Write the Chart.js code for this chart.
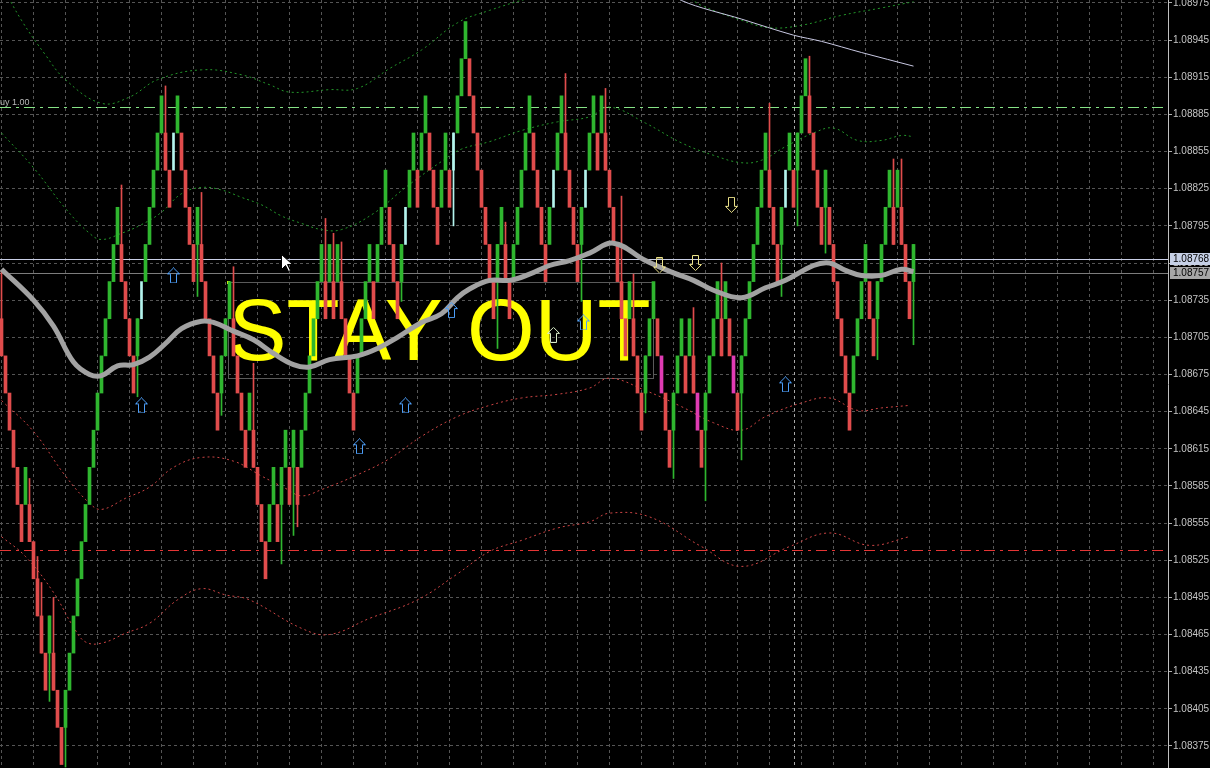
<!DOCTYPE html>
<html lang="en">
<head>
<meta charset="UTF-8" />
<title>EURUSD renko</title>
<script src="https://cdn.jsdelivr.net/npm/chart.js"></script>
<style>
  html, body { margin: 0; padding: 0; background: #000; }
  #wrap { width: 1210px; height: 768px; }
</style>
</head>
<body>
<div id="wrap"><canvas id="renko"></canvas></div>
<script>
// renko bricks of 3 pips, close of every brick from left to right
const brick = 0.0003;
const firstOpen = 1.0872;
const closes = [
  1.0869, 1.0866, 1.0863, 1.0860, 1.0857, 1.0854, 1.0860, 1.0854, 1.0851, 1.0848,
  1.0845, 1.0842, 1.0848, 1.0842, 1.0839, 1.0836, 1.0842, 1.0845, 1.0848, 1.0851,
  1.0854, 1.0857, 1.0860, 1.0863, 1.0866, 1.0869, 1.0872, 1.0875, 1.0878, 1.0881,
  1.0875, 1.0872, 1.0869, 1.0866, 1.0872, 1.0875, 1.0878, 1.0881, 1.0884, 1.0887,
  1.0890, 1.0884, 1.0881, 1.0887, 1.0890, 1.0884, 1.0881, 1.0878, 1.0875, 1.0881,
  1.0875, 1.0872, 1.0869, 1.0866, 1.0863, 1.0869, 1.0872, 1.0875, 1.0869, 1.0866,
  1.0863, 1.0860, 1.0866, 1.0860, 1.0857, 1.0854, 1.0851, 1.0857, 1.0860, 1.0854,
  1.0860, 1.0863, 1.0857, 1.0863, 1.0857, 1.0863, 1.0866, 1.0869, 1.0872, 1.0875,
  1.0878, 1.0872, 1.0878, 1.0872, 1.0878, 1.0872, 1.0869, 1.0866, 1.0863, 1.0869,
  1.0872, 1.0875, 1.0878, 1.0872, 1.0878, 1.0881, 1.0884, 1.0878, 1.0875, 1.0872,
  1.0878, 1.0881, 1.0884, 1.0887, 1.0881, 1.0887, 1.0890, 1.0884, 1.0881, 1.0878,
  1.0884, 1.0887, 1.0881, 1.0887, 1.0890, 1.0893, 1.0896, 1.0890, 1.0887, 1.0884,
  1.0881, 1.0878, 1.0875, 1.0872, 1.0878, 1.0881, 1.0875, 1.0872, 1.0878, 1.0881,
  1.0884, 1.0887, 1.0890, 1.0884, 1.0881, 1.0878, 1.0875, 1.0881, 1.0884, 1.0887,
  1.0890, 1.0884, 1.0881, 1.0878, 1.0875, 1.0881, 1.0884, 1.0887, 1.0890, 1.0884,
  1.0890, 1.0884, 1.0881, 1.0878, 1.0875, 1.0872, 1.0869, 1.0875, 1.0869, 1.0866,
  1.0863, 1.0869, 1.0872, 1.0875, 1.0869, 1.0866, 1.0863, 1.0860, 1.0866, 1.0869,
  1.0872, 1.0866, 1.0872, 1.0866, 1.0863, 1.0860, 1.0866, 1.0869, 1.0872, 1.0875,
  1.0869, 1.0875, 1.0869, 1.0866, 1.0863, 1.0869, 1.0872, 1.0875, 1.0878, 1.0881,
  1.0884, 1.0887, 1.0881, 1.0878, 1.0875, 1.0881, 1.0884, 1.0887, 1.0881, 1.0887,
  1.0890, 1.0893, 1.0887, 1.0884, 1.0881, 1.0878, 1.0884, 1.0878, 1.0875, 1.0872,
  1.0869, 1.0866, 1.0863, 1.0869, 1.0872, 1.0875, 1.0878, 1.0872, 1.0869, 1.0875,
  1.0878, 1.0881, 1.0884, 1.0878, 1.0884, 1.0878, 1.0875, 1.0872, 1.0878
];
const cyanBricks = [35, 43, 101, 113, 138, 146, 196];
const magentaBricks = [165, 174, 183];

// wicks that stick out of the bricks: [brick index, price]
const wickHighs = [
  [0, 1.08759], [7, 1.08591], [9, 1.08528], [10, 1.08507], [13, 1.08495], [30, 1.08828],
  [41, 1.08908], [50, 1.08822], [58, 1.08762], [63, 1.08684], [81, 1.08801], [83, 1.08789],
  [85, 1.08782], [126, 1.08798], [141, 1.08918], [151, 1.08906], [155, 1.08819], [158, 1.08756],
  [173, 1.08729], [180, 1.08765], [192, 1.08894], [202, 1.08932], [223, 1.08849], [225, 1.08849]
];
const wickLows = [
  [12, 1.08411], [16, 1.08358], [34, 1.08657], [49, 1.08738], [55, 1.08642], [70, 1.08522],
  [73, 1.08545], [74, 1.08552], [100, 1.08734], [113, 1.08795], [124, 1.08696], [145, 1.08734],
  [161, 1.08644], [168, 1.08591], [176, 1.08573], [185, 1.08606], [195, 1.08738], [199, 1.08795],
  [206, 1.08773], [219, 1.08687], [228, 1.08699]
];

// indicator lines: [brick index, price]
const movingAvg = [
  [0, 1.08760], [8, 1.08735], [13, 1.08714], [18, 1.08685], [22, 1.08675], [25, 1.08674],
  [29, 1.08682], [33, 1.08683], [37, 1.08689], [41, 1.08700], [45, 1.08712], [50, 1.08718],
  [53, 1.08717], [58, 1.08710], [63, 1.08703], [68, 1.08692], [73, 1.08683], [77, 1.08681],
  [82, 1.08687], [89, 1.08690], [94, 1.08696], [99, 1.08705], [105, 1.08717], [110, 1.08724],
  [114, 1.08737], [117, 1.08744], [122, 1.08751], [127, 1.08751], [132, 1.08756], [137, 1.08763],
  [142, 1.08767], [147, 1.08773], [153, 1.08781], [161, 1.08767], [168, 1.08757], [173, 1.08751],
  [178, 1.08743], [185, 1.08737], [191, 1.08745], [196, 1.08751], [203, 1.08763], [207, 1.08765],
  [211, 1.08759], [215, 1.08755], [220, 1.08755], [225, 1.08760], [228, 1.08758]
];
const upperInner = [
  [0, 1.08870], [8, 1.08842], [16, 1.08809], [22, 1.08789], [25, 1.08784], [30, 1.08789],
  [35, 1.08796], [40, 1.08806], [45, 1.08821], [50, 1.08826], [55, 1.08824], [60, 1.08818],
  [65, 1.08812], [70, 1.08803], [75, 1.08797], [80, 1.08792], [85, 1.08792], [93, 1.08805],
  [101, 1.08826], [110, 1.08847], [115, 1.08857], [122, 1.08863], [130, 1.08872], [139, 1.08879],
  [147, 1.08883], [152, 1.08891], [161, 1.08878], [170, 1.08862], [178, 1.08852], [185, 1.08846],
  [190, 1.08848], [196, 1.08859], [203, 1.08870], [208, 1.08874], [214, 1.08864], [220, 1.08864],
  [225, 1.08868], [228, 1.08867]
];
const upperOuter = [
  [0, 1.08990], [5, 1.08961], [11, 1.08933], [16, 1.08913], [25, 1.08894], [32, 1.08899],
  [39, 1.08913], [50, 1.08921], [60, 1.08917], [67, 1.08909], [72, 1.08903], [82, 1.08905],
  [89, 1.08906], [97, 1.08922], [105, 1.08937], [114, 1.08959], [122, 1.08969], [132, 1.08979],
  [150, 1.08995], [170, 1.08982], [175, 1.08973], [185, 1.08961], [192, 1.08955], [200, 1.08957],
  [210, 1.08965], [220, 1.08971], [228, 1.08976]
];
const lowerInner = [
  [0, 1.08654], [8, 1.08629], [16, 1.08593], [22, 1.08571], [25, 1.08566], [31, 1.08575],
  [37, 1.08584], [43, 1.08600], [50, 1.08608], [58, 1.08605], [65, 1.08593], [71, 1.08583],
  [75, 1.08577], [80, 1.08582], [89, 1.08594], [97, 1.08607], [105, 1.08625], [114, 1.08641],
  [122, 1.08650], [130, 1.08656], [139, 1.08659], [147, 1.08664], [152, 1.08672], [161, 1.08662],
  [170, 1.08649], [178, 1.08636], [185, 1.08630], [191, 1.08641], [200, 1.08652], [207, 1.08656],
  [214, 1.08646], [220, 1.08648], [227, 1.08650]
];
const lowerOuter = [
  [0, 1.08544], [6, 1.08528], [13, 1.08499], [18, 1.08471], [21, 1.08459], [25, 1.08458],
  [31, 1.08466], [37, 1.08474], [44, 1.08493], [50, 1.08502], [56, 1.08497], [62, 1.08493],
  [75, 1.08470], [82, 1.08465], [92, 1.08478], [104, 1.08493], [114, 1.08514], [122, 1.08532],
  [130, 1.08541], [139, 1.08551], [147, 1.08556], [152, 1.08563], [162, 1.08560], [175, 1.08536],
  [185, 1.08520], [197, 1.08536], [207, 1.08547], [217, 1.08537], [227, 1.08544]
];
const slowLine = [
  [160, 1.08998], [170, 1.08977], [185, 1.08962], [198, 1.08949], [205, 1.08944],
  [215, 1.08935], [228, 1.08924]
];

// signal arrows: [brick index, price]
const buyArrows = [
  [35, 1.08650], [43, 1.08755], [89.5, 1.08617], [101, 1.08650], [112.5, 1.08727],
  [138, 1.08707], [145.5, 1.08717], [196, 1.08667]
];
const sellArrows = [[164.5, 1.08763], [173.5, 1.08765], [182.5, 1.08812]];

// levels and axis
const priceTicks = [
  1.08375, 1.08405, 1.08435, 1.08465, 1.08495, 1.08525, 1.08555, 1.08585, 1.08615, 1.08645,
  1.08675, 1.08705, 1.08735, 1.08765, 1.08795, 1.08825, 1.08855, 1.08885, 1.08915, 1.08945, 1.08975
];
const priceMin = 1.083572, priceMax = 1.089774;
const buyLevel = 1.08891, sellLevel = 1.08533;
const askPrice = 1.08768, bidPrice = 1.08757;
const separatorIndex = 198;
const warningText = 'STAY OUT';
const boxFrom = [56.6, 1.08750], boxTo = [162.9, 1.08672];
const textBase = 1.08687;
const cursorAt = [69.9, 1.08772];

// ---------- build the chart ----------
const opens = closes.map((c, i) => {
  if (i === 0) return firstOpen;
  return c > closes[i - 1] ? +(c - brick).toFixed(5) : +(c + brick).toFixed(5);
});
const GREEN = '#2fb62f', RED = '#e04c4c', CYAN = '#b4f4ee', MAGENTA = '#e03cb4';
const bodyColors = closes.map((c, i) => {
  if (cyanBricks.includes(i)) return CYAN;
  if (magentaBricks.includes(i)) return MAGENTA;
  return c > opens[i] ? GREEN : RED;
});
const plainIdx = closes.map((_, i) => i).filter(i => !cyanBricks.includes(i));

const wickIdx = [...new Set([...wickHighs, ...wickLows].map(w => w[0]))].sort((a, b) => a - b);
const wickData = wickIdx.map(i => {
  const hi = wickHighs.find(w => w[0] === i);
  const lo = wickLows.find(w => w[0] === i);
  return {
    x: i,
    y: [lo ? lo[1] : Math.min(opens[i], closes[i]), hi ? hi[1] : Math.max(opens[i], closes[i])]
  };
});

function arrowImage(color, up) {
  const c = document.createElement('canvas');
  c.width = 13; c.height = 16;
  const g = c.getContext('2d');
  g.strokeStyle = color;
  g.lineWidth = 1;
  const pts = [[6.5, 0.5], [12.5, 6.5], [9.5, 6.5], [9.5, 15.5], [3.5, 15.5], [3.5, 6.5], [0.5, 6.5]];
  g.beginPath();
  pts.forEach(([px, py], i) => {
    const yy = up ? py : 16 - py;
    if (i) g.lineTo(px, yy); else g.moveTo(px, yy);
  });
  g.closePath();
  g.stroke();
  return c;
}
const upBlue = arrowImage('#4c9ef8', true);
const upPale = arrowImage('#d9ecc8', true);
const downYellow = arrowImage('#ece38a', false);

const toXY = arr => arr.map(([x, y]) => ({ x, y }));
const band = (data, color, order) => ({
  type: 'line', data: toXY(data), borderColor: color, borderWidth: 1, borderDash: [2, 3],
  pointRadius: 0, tension: 0.4, order
});

const overlay = {
  id: 'overlay',
  beforeDatasetsDraw(chart) {
    const { ctx, chartArea: a, scales: { x, y } } = chart;
    ctx.save();
    ctx.beginPath();
    ctx.rect(a.left, a.top, a.width, a.height);
    ctx.clip();

    const sx = Math.round(x.getPixelForValue(separatorIndex)) + 0.5;
    ctx.strokeStyle = '#a8a8a8';
    ctx.lineWidth = 1;
    ctx.setLineDash([3, 3]);
    ctx.beginPath(); ctx.moveTo(sx, a.top); ctx.lineTo(sx, a.bottom); ctx.stroke();

    const hline = (price, color, dash) => {
      const py = Math.round(y.getPixelForValue(price)) + 0.5;
      ctx.strokeStyle = color;
      ctx.setLineDash(dash);
      ctx.beginPath(); ctx.moveTo(a.left, py); ctx.lineTo(a.right, py); ctx.stroke();
    };
    hline(buyLevel, '#86e386', [11, 5, 3, 5]);
    hline(sellLevel, '#e53535', [11, 5, 3, 5]);
    hline(bidPrice, '#7c7c7c', []);
    hline(askPrice, '#c9cfe6', []);

    ctx.font = '9px "Liberation Sans"';
    ctx.fillStyle = '#b8b8b8';
    ctx.fillText('buy 1.00', -5, y.getPixelForValue(buyLevel) - 2);

    const bx1 = Math.round(x.getPixelForValue(boxFrom[0])) + 0.5;
    const bx2 = Math.round(x.getPixelForValue(boxTo[0])) + 0.5;
    const by1 = Math.round(y.getPixelForValue(boxFrom[1])) + 0.5;
    const by2 = Math.round(y.getPixelForValue(boxTo[1])) + 0.5;
    ctx.setLineDash([]);
    ctx.strokeStyle = '#5a5a5a';
    ctx.strokeRect(bx1, by1, bx2 - bx1, by2 - by1);
    ctx.fillStyle = '#ffff00';
    ctx.fillRect(bx1 - 1.5, by1 - 1.5, 3, 3);

    ctx.font = '87px "Liberation Sans"';
    ctx.fillStyle = '#ffff00';
    ctx.textBaseline = 'alphabetic';
    ctx.fillText(warningText, bx1, y.getPixelForValue(textBase));
    ctx.restore();
  },
  afterDraw(chart) {
    const { ctx, chartArea: a, scales: { x, y } } = chart;
    ctx.save();
    // mouse pointer left on the chart
    const cx = Math.round(x.getPixelForValue(cursorAt[0])) + 0.5;
    const cy = Math.round(y.getPixelForValue(cursorAt[1])) + 0.5;
    const cur = [[0, 0], [0, 15], [4, 11], [7, 17], [9, 16], [6, 10], [11, 10]];
    ctx.beginPath();
    cur.forEach(([px, py], i) => i ? ctx.lineTo(cx + px, cy + py) : ctx.moveTo(cx + px, cy + py));
    ctx.closePath();
    ctx.fillStyle = '#ffffff'; ctx.fill();
    ctx.strokeStyle = '#000000'; ctx.lineWidth = 1; ctx.stroke();

    // price tags on the axis
    const tag = (price, bg) => {
      const py = Math.round(y.getPixelForValue(price));
      ctx.fillStyle = bg;
      ctx.fillRect(a.right + 2, py - 6, 40, 12);
      ctx.fillStyle = '#000000';
      ctx.font = '10px "Liberation Sans"';
      ctx.textBaseline = 'middle';
      ctx.fillText(price.toFixed(5), a.right + 5, py + 0.5);
    };
    tag(askPrice, '#c6d0e6');
    tag(bidPrice, '#a6a6a6');
    ctx.restore();
  }
};

new Chart(document.getElementById('renko'), {
  type: 'bar',
  data: {
    datasets: [
      {
        type: 'line', data: toXY(buyArrows), showLine: false, order: 1,
        pointStyle: buyArrows.map(a => a[0] === 138 ? upPale : upBlue), pointRadius: 7
      },
      {
        type: 'line', data: toXY(sellArrows), showLine: false, order: 1,
        pointStyle: downYellow, pointRadius: 7
      },
      {
        type: 'line', data: toXY(movingAvg), borderColor: '#a2a2a2', borderWidth: 5,
        pointRadius: 0, tension: 0.4, order: 3
      },
      {
        type: 'line', data: toXY(slowLine), borderColor: '#c8c8e2', borderWidth: 1,
        pointRadius: 0, tension: 0.3, order: 4
      },
      {
        data: plainIdx.map(i => ({ x: i, y: [opens[i], closes[i]] })),
        backgroundColor: plainIdx.map(i => bodyColors[i]), barThickness: 3, grouped: false,
        borderWidth: 0, order: 5
      },
      {
        data: cyanBricks.map(i => ({ x: i, y: [opens[i], closes[i]] })),
        backgroundColor: CYAN, barThickness: 2, grouped: false, borderWidth: 0, order: 5
      },
      {
        data: wickData,
        backgroundColor: wickIdx.map(i => bodyColors[i]), barThickness: 1, grouped: false,
        borderWidth: 0, order: 6
      },
      band(upperInner, '#23962a', 10),
      band(upperOuter, '#23962a', 10),
      band(lowerInner, '#cc4444', 10),
      band(lowerOuter, '#cc4444', 10)
    ]
  },
  options: {
    responsive: true,
    maintainAspectRatio: false,
    devicePixelRatio: 1,
    animation: false,
    events: [],
    layout: { padding: 0, autoPadding: false },
    plugins: { legend: { display: false }, tooltip: { enabled: false } },
    scales: {
      x: {
        type: 'linear', min: -0.375, max: 291.625, offset: false,
        ticks: { display: false },
        grid: { color: '#555555', drawTicks: false, offset: false },
        border: { display: false, dash: [3, 3] },
        afterBuildTicks: s => { s.ticks = Array.from({ length: 37 }, (_, j) => ({ value: j * 8 })); },
        afterFit: s => { s.height = 0; s.paddingLeft = 0; s.paddingRight = 0; }
      },
      y: {
        position: 'right', min: priceMin, max: priceMax, beginAtZero: false,
        ticks: {
          color: '#c4c4c4', font: { family: 'Liberation Sans', size: 10 }, padding: 1,
          autoSkip: false, callback: v => v.toFixed(5)
        },
        grid: { color: '#555555', tickColor: '#b0b0b0', tickLength: 4 },
        border: { display: true, color: '#c0c0c0', dash: [3, 3] },
        afterBuildTicks: s => { s.ticks = priceTicks.map(v => ({ value: v })); },
        afterFit: s => { s.width = 42; s.paddingTop = 0; s.paddingBottom = 0; }
      }
    }
  },
  plugins: [overlay]
});
</script>
</body>
</html>
